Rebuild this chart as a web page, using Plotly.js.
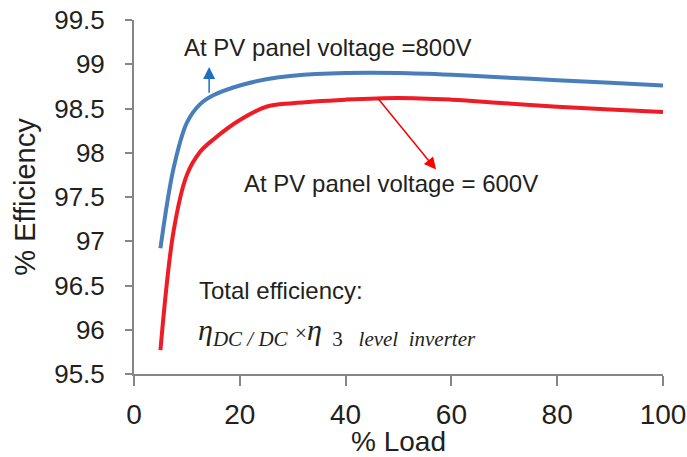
<!DOCTYPE html>
<html>
<head>
<meta charset="utf-8">
<script src="https://cdn.plot.ly/plotly-3.0.1.min.js"></script>
<style>html,body{margin:0;padding:0;background:#fff;}#chart{width:687px;height:457px;}</style>
</head>
<body>
<div id="chart"></div>
<script>
const loadPct = [5, 7.5, 10, 12.5, 15, 20, 25, 30, 40, 50, 60, 70, 80, 90, 100];
const eff800 = [96.92, 97.83, 98.34, 98.55, 98.65, 98.76, 98.83, 98.87, 98.90, 98.90, 98.88, 98.85, 98.82, 98.79, 98.76];
const eff600 = [95.77, 97.12, 97.75, 98.01, 98.15, 98.37, 98.52, 98.56, 98.60, 98.62, 98.60, 98.56, 98.52, 98.49, 98.46];
const xTicks = [0, 20, 40, 60, 80, 100];
const yTicks = [95.5, 96, 96.5, 97, 97.5, 98, 98.5, 99, 99.5];
const yTickText = ['95.5', '96', '96.5', '97', '97.5', '98', '98.5', '99', '99.5'];

const sans = 'Liberation Sans, Arial, sans-serif';
const serif = 'Liberation Serif, Times New Roman, serif';
const NB = '\u00a0';

const traces = [
  {x: loadPct, y: eff800, mode: 'lines', line: {color: '#4a7ebb', width: 4, shape: 'spline', smoothing: 1}, hoverinfo: 'skip'},
  {x: loadPct, y: eff600, mode: 'lines', line: {color: '#ee1c25', width: 4, shape: 'spline', smoothing: 1}, hoverinfo: 'skip'}
];

const formula = '<i>η</i><sub><i>DC / DC</i></sub>' + NB + '<span style="font-size:21px">×</span><i>η</i>' +
  '<sub>' + NB + NB + '3' + NB + NB + NB + '<i>level' + NB + NB + 'inverter</i></sub>';

const layout = {
  width: 687, height: 457,
  margin: {l: 134, r: 24, t: 20, b: 83},
  paper_bgcolor: '#fff', plot_bgcolor: '#fff',
  showlegend: false,
  font: {family: sans, color: '#231f20', size: 26},
  xaxis: {
    range: [0, 100], tickvals: xTicks, ticktext: xTicks.map(String),
    showgrid: false, zeroline: false, showline: true, linecolor: '#868686', linewidth: 2,
    ticks: 'outside', ticklen: 10, tickwidth: 2, tickcolor: '#868686',
    ticklabelstandoff: 4,
    tickfont: {family: sans, size: 28, color: '#231f20'},
    title: {text: '% Load', font: {family: sans, size: 28, color: '#231f20'}, standoff: 2}
  },
  yaxis: {
    range: [95.5, 99.5], tickvals: yTicks, ticktext: yTickText,
    showgrid: false, zeroline: false, showline: true, linecolor: '#868686', linewidth: 2,
    ticks: 'outside', ticklen: 7, tickwidth: 2, tickcolor: '#868686',
    ticklabelstandoff: 15,
    tickfont: {family: sans, size: 26, color: '#231f20'},
    title: {text: '% Efficiency', font: {family: sans, size: 29, color: '#231f20'}, standoff: 10}
  },
  annotations: [
    {x: 14.2, y: 98.97, ax: 14.2, ay: 98.66, xref: 'x', yref: 'y', axref: 'x', ayref: 'y',
     showarrow: true, arrowhead: 2, arrowsize: 1.6, arrowwidth: 1.5, arrowcolor: '#1f6fbf', text: '', standoff: 0},
    {x: 57.1, y: 97.81, ax: 45.9, ay: 98.63, xref: 'x', yref: 'y', axref: 'x', ayref: 'y',
     showarrow: true, arrowhead: 2, arrowsize: 1.6, arrowwidth: 1.5, arrowcolor: '#ff0000', text: '', standoff: 0},
    {xref: 'paper', yref: 'paper', x: (182 - 134) / 529, y: (374 - 47) / 354, xanchor: 'left', yanchor: 'middle',
     showarrow: false, text: 'At PV panel voltage =800V', font: {family: sans, size: 24, color: '#231f20'}},
    {xref: 'paper', yref: 'paper', x: (242 - 134) / 529, y: (374 - 183) / 354, xanchor: 'left', yanchor: 'middle',
     showarrow: false, text: 'At PV panel voltage = 600V', font: {family: sans, size: 24, color: '#231f20'}},
    {xref: 'paper', yref: 'paper', x: (197 - 134) / 529, y: (374 - 290) / 354, xanchor: 'left', yanchor: 'middle',
     showarrow: false, text: 'Total efficiency:', font: {family: sans, size: 24, color: '#231f20'}},
    {xref: 'paper', yref: 'paper', x: (196 - 134) / 529, y: (374 - 332) / 354, xanchor: 'left', yanchor: 'middle',
     showarrow: false, text: formula,
     font: {family: serif, size: 30, color: '#231f20'}}
  ]
};

Plotly.newPlot('chart', traces, layout, {staticPlot: true, displayModeBar: false});
</script>
</body>
</html>
